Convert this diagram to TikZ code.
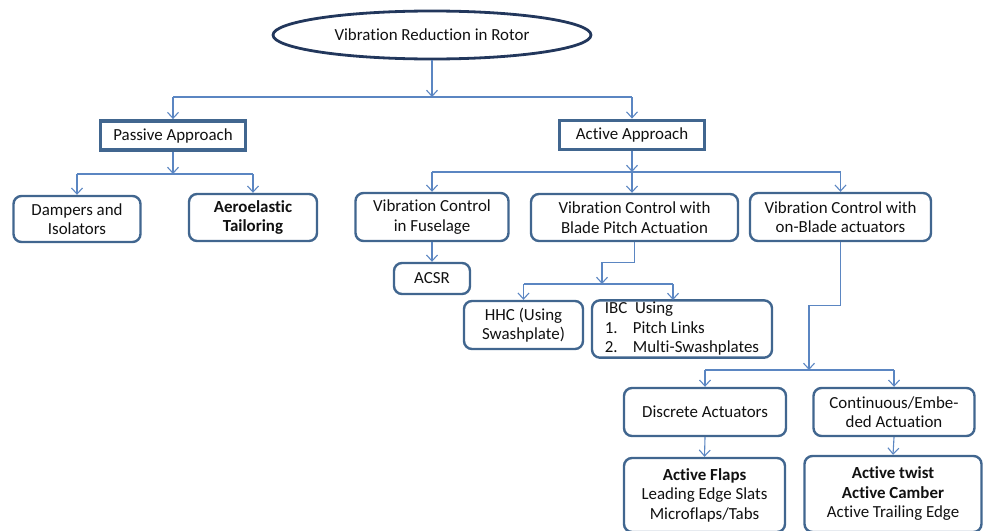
\documentclass[tikz,border=0pt]{standalone}
\usepackage{fontspec}
\setmainfont[Ligatures=NoCommon]{Carlito}
\usetikzlibrary{shapes.geometric,arrows.meta}

\definecolor{edgeblue}{HTML}{41668F}
\definecolor{linkblue}{HTML}{5B86C2}
\definecolor{navy}{HTML}{22375C}
\definecolor{ink}{HTML}{111111}

\tikzset{
  rbox/.style={draw=edgeblue, line width=2.4pt, rounded corners=8pt, fill=white,
    text=ink, align=center, inner sep=2pt},
  hbox/.style={draw=edgeblue, line width=3.8pt, fill=white, text=ink, align=center},
  link/.style={draw=linkblue, line width=1.1pt},
  flow/.style={link, -{Straight Barb[length=6pt,width=11pt]}},
}

\begin{document}
\begin{tikzpicture}[x=1pt, y=-1pt, font=\fontsize{16.9}{19.5}\selectfont]
    \useasboundingbox (0,0) rectangle (984,530);

    % Root
    \node[ellipse, draw=navy, line width=2.8pt, text=ink, minimum width=318, minimum height=48]
        (root) at (432,35) {Vibration Reduction in Rotor};

    % Approaches
    \node[hbox, minimum width=145, minimum height=29] (pas) at (173,135.5) {Passive Approach};
    \node[hbox, minimum width=145, minimum height=29] (act) at (632,135) {Active Approach};

    % Passive branch
    \node[rbox, minimum width=127, minimum height=46] (damp) at (77,219) {Dampers and\\Isolators};
    \node[rbox, minimum width=128, minimum height=47, font=\fontsize{16.9}{19.5}\selectfont\bfseries]
        (aero) at (253,217.5) {Aeroelastic\\Tailoring};

    % Active branch
    \node[rbox, minimum width=153, minimum height=48] (fus) at (432,217) {Vibration Control\\in Fuselage};
    \node[rbox, minimum width=207, minimum height=47] (pitch) at (634.5,217.5) {Vibration Control with\\Blade Pitch Actuation};
    \node[rbox, minimum width=181, minimum height=48] (blade) at (840.5,217) {Vibration Control with\\on-Blade actuators};

    \node[rbox, minimum width=76, minimum height=31] (acsr) at (432,278.5) {ACSR};
    \node[rbox, minimum width=119, minimum height=48] (hhc) at (523.5,325) {HHC (Using\\Swashplate)};
    \node[rbox, minimum width=180, minimum height=56, align=left] (ibc) at (682,329)
        {IBC\ \ Using\\\makebox[28pt][l]{1.}Pitch Links\\\makebox[28pt][l]{2.}Multi-Swashplates};

    \node[rbox, minimum width=162, minimum height=48] (disc) at (705,412) {Discrete Actuators};
    \node[rbox, minimum width=161, minimum height=48] (cont) at (894,412) {Continuous/Embe-\\ded Actuation};

    \node[rbox, minimum width=161, minimum height=74] (flaps) at (704.5,495)
        {\textbf{Active Flaps}\\Leading Edge Slats\\Microflaps/Tabs};
    \node[rbox, minimum width=177, minimum height=76] (twist) at (893,494)
        {\textbf{Active twist}\\\textbf{Active Camber}\\Active Trailing Edge};

    % Junctions
    \coordinate (bus0) at (431,97);
    \coordinate (bus1) at (175,174);
    \coordinate (bus2) at (632,172);
    \coordinate (bus3) at (602,284);
    \coordinate (ibcin) at (673,300);
    \coordinate (bus4) at (809,370);

    % Root to approaches
    \draw[flow] (root.south) -- (root.south |- bus0);
    \draw[link] (pas |- bus0) -- (act |- bus0);
    \draw[flow] (pas |- bus0) -- (pas.north);
    \draw[flow] (act |- bus0) -- (act.north);

    % Passive connectors
    \draw[flow] (pas.south) -- (pas.south |- bus1);
    \draw[link] (damp |- bus1) -- (aero |- bus1);
    \draw[flow] (damp |- bus1) -- (damp.north);
    \draw[flow] (aero |- bus1) -- (aero.north);

    % Active connectors
    \draw[flow] (act.south) -- (act.south |- bus2);
    \draw[link] (fus |- bus2) -- (blade |- bus2);
    \draw[flow] (fus |- bus2) -- (fus.north);
    \draw[flow] (act |- bus2) -- (act |- pitch.north);
    \draw[flow] (blade |- bus2) -- (blade.north);

    \draw[flow] (fus.south) -- (fus.south |- acsr.north);

    \draw[flow] (pitch.south) -- ++(0,20) -| (bus3);
    \draw[link] (hhc |- bus3) -- (ibcin |- bus3);
    \draw[flow] (hhc |- bus3) -- (hhc.north);
    \draw[flow] (ibcin |- bus3) -- (ibcin);

    \draw[flow] (blade.south) -- ++(0,63) -| (bus4);
    \draw[link] (disc |- bus4) -- (cont |- bus4);
    \draw[flow] (disc |- bus4) -- (disc.north);
    \draw[flow] (cont |- bus4) -- (cont.north);

    \draw[flow] (disc.south) -- (flaps.north);
    \draw[flow] (cont.south) -- (twist.north);

\end{tikzpicture}
\end{document}
